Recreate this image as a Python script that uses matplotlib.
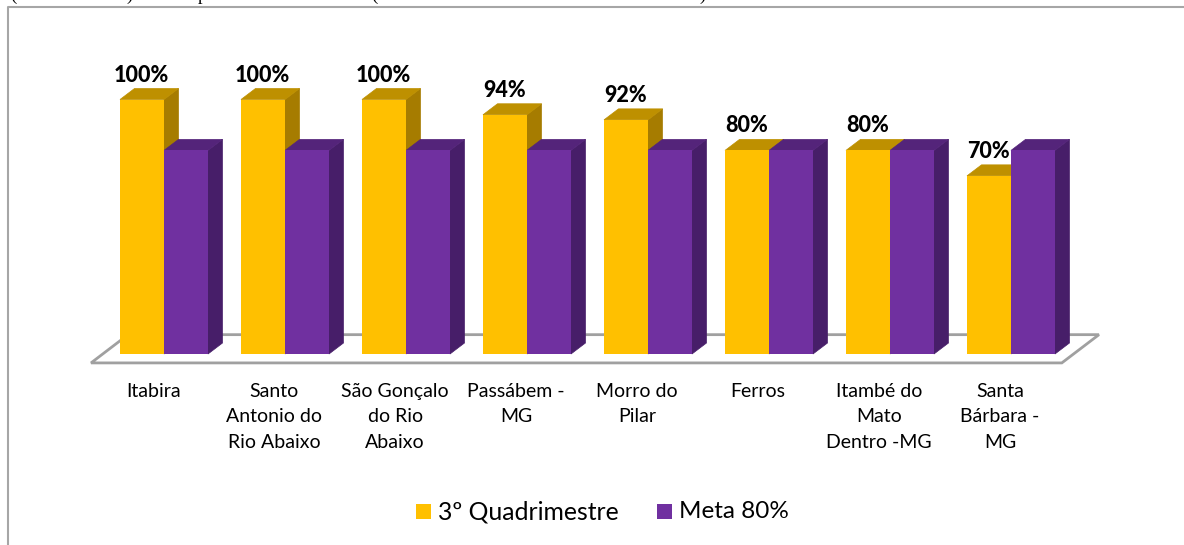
import matplotlib
matplotlib.use("Agg")
import matplotlib.pyplot as plt
from matplotlib.lines import Line2D
from matplotlib.patches import Polygon, Rectangle

plt.rcParams['font.family'] = ['Lato', 'DejaVu Sans']

# Data
cidades = ["Itabira", "Santo\nAntonio do\nRio Abaixo", "São Gonçalo\ndo Rio\nAbaixo",
           "Passábem -\nMG", "Morro do\nPilar", "Ferros",
           "Itambé do\nMato\nDentro -MG", "Santa\nBárbara -\nMG"]
quadrimestre = [100, 100, 100, 94, 92, 80, 80, 70]
meta = [80, 80, 80, 80, 80, 80, 80, 80]

W, H = 1184, 545

# Scales: one x unit is a group pitch, one y unit is one percent
pitch = 121.0
px_y = 2.545
bw = 44 / pitch
dx = 14.5 / pitch
dy = 11 / px_y

amarelo = ("#FFC000", "#BE9000", "#A67C00")
roxo = ("#7030A0", "#54247A", "#471E69")

fig = plt.figure(figsize=(W / 100, H / 100), dpi=100)
ax = fig.add_axes([0, 0, 1, 1])
ax.set_xlim(-164 / pitch, (W - 164) / pitch)
ax.set_ylim(-(H - 354) / px_y, 354 / px_y)
ax.axis("off")

# Chart border: only the top and left sides are inside the crop
borda = Line2D([7.5 / W, 7.5 / W, 1], [0, 1 - 6.5 / H, 1 - 6.5 / H], transform=fig.transFigure,
               color="#A6A6A6", lw=1.5)
fig.add_artist(borda)

# Only the bottoms of the page text above the chart are visible
for xp, s in [(10, "("), (126, ")"), (198, "p"), (371, "("), (699, ")")]:
    fig.text(xp / W, 1.0, s, family=["Liberation Serif"], fontsize=13.5, va="baseline", ha="left", color="black")

# Floor of the 3-D chart
n = len(cidades)
piso = [(-0.603, -3.5), (n - 0.58, -3.5), (n - 0.273, 7.6), (-0.297, 7.6)]
ax.add_patch(Polygon(piso, closed=True, fc="white", ec="#A0A0A0", lw=2.0, zorder=1))


def barra(x, v, cores):
    frente, topo, lado = cores
    ax.add_patch(Polygon([(x + bw, 0), (x + bw + dx, dy), (x + bw + dx, v + dy), (x + bw, v)],
                         fc=lado, ec=lado, lw=0.5, zorder=3))
    ax.add_patch(Polygon([(x, v), (x + dx, v + dy), (x + bw + dx, v + dy), (x + bw, v)],
                         fc=topo, ec=topo, lw=0.5, zorder=3))
    ax.bar(x, v, width=bw, align="edge", color=frente, zorder=4)


for i in range(n):
    barra(i - bw, quadrimestre[i], amarelo)
    barra(i, meta[i], roxo)
    ax.text(i - bw + 0.18, quadrimestre[i] + 9.6, "%d%%" % quadrimestre[i], ha="center", va="center",
            fontsize=15.5, fontweight="black", color="black", zorder=6)
    ax.text(i - 0.09, -11.3, cidades[i], ha="center", va="top", fontsize=14, linespacing=1.61, color="black")

# Legend
fig.add_artist(Rectangle((416 / W, 1 - 519 / H), 15 / W, 15 / H, transform=fig.transFigure, fc=amarelo[0]))
fig.add_artist(Rectangle((657 / W, 1 - 519 / H), 15 / W, 15 / H, transform=fig.transFigure, fc=roxo[0]))
fig.text(438 / W, 1 - 512 / H, "3º Quadrimestre", fontsize=17.8, va="center", color="black")
fig.text(679 / W, 1 - 512 / H, "Meta 80%", fontsize=17.5, va="center", color="black")

fig.savefig("out.png", dpi=100)
